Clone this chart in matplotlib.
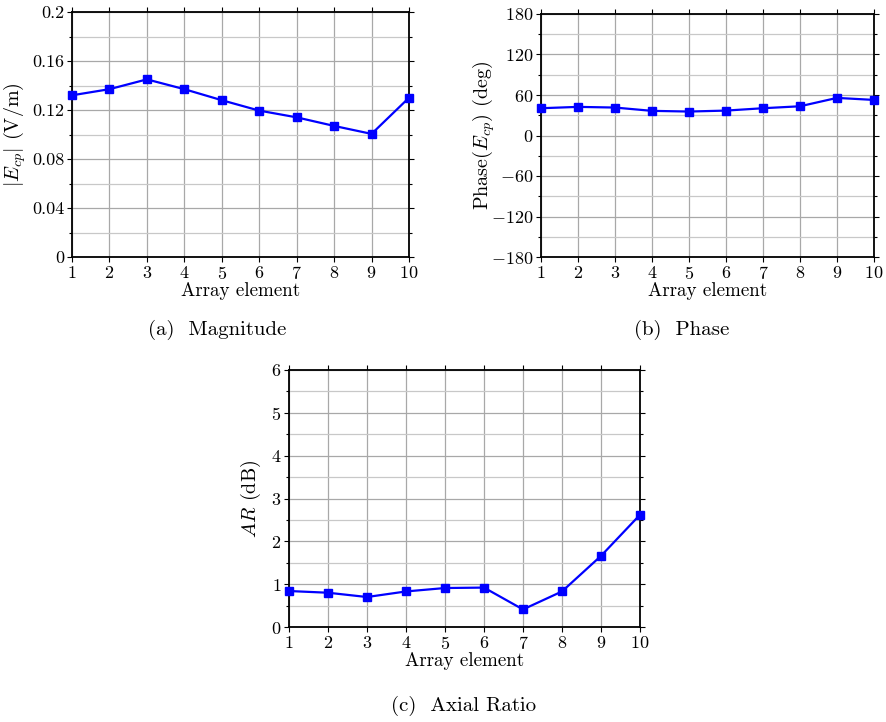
import matplotlib
matplotlib.use("Agg")
import matplotlib.pyplot as plt
import numpy as np
from matplotlib.ticker import MultipleLocator

plt.rcParams['font.family'] = 'serif'
plt.rcParams['font.serif'] = ['cmr10']
plt.rcParams['mathtext.fontset'] = 'cm'
plt.rcParams['axes.formatter.use_mathtext'] = True

elements = [1, 2, 3, 4, 5, 6, 7, 8, 9, 10]
magnitude = [0.132, 0.137, 0.145, 0.137, 0.128, 0.1195, 0.114, 0.107, 0.1005, 0.130]
phase = [40.4, 42.4, 41.4, 36.5, 35.5, 36.9, 40.4, 43.3, 55.7, 52.7]
axial_ratio = [0.84, 0.80, 0.70, 0.83, 0.91, 0.92, 0.41, 0.83, 1.66, 2.62]

fig = plt.figure(figsize=(8.86, 7.22), dpi=100)
W, H = 886, 722

def add_ax(l, r, t, b):
    return fig.add_axes([l / W, 1 - b / H, (r - l) / W, (b - t) / H])

def style(ax, data, ymin, ymax, major, minor, ylabel, labx, ticklabels=None):
    ax.plot(elements, data, color='#0000ff', lw=1.6, marker='s', ms=6, zorder=5, clip_on=False)
    ax.set_xlim(1, 10)
    ax.set_ylim(ymin, ymax)
    ax.xaxis.set_major_locator(MultipleLocator(1))
    ax.yaxis.set_major_locator(MultipleLocator(major))
    ax.yaxis.set_minor_locator(MultipleLocator(minor))
    ax.grid(which='major', color='#a8a8a8', lw=0.9)
    ax.grid(which='minor', axis='y', color='#c8c8c8', lw=0.9)
    ax.set_axisbelow(True)
    ax.tick_params(which='both', direction='out', top=True, right=True, labelsize=13, width=0.8, color='black')
    ax.tick_params(which='major', length=3.5, pad=2)
    ax.tick_params(which='minor', length=2)
    for s in ax.spines.values():
        s.set_linewidth(1.3)
    ax.set_xlabel('Array element', fontsize=13.7, labelpad=0)
    ax.set_ylabel(ylabel, fontsize=14.5)
    ax.yaxis.set_label_coords(labx, 0.5)
    if ticklabels is not None:
        ax.set_yticks(ticklabels[0])
        ax.set_yticklabels(ticklabels[1])

ax1 = add_ax(72, 409, 12, 257)
style(ax1, magnitude, 0, 0.2, 0.04, 0.02, r'$|E_{cp}|$ (V/m)', -0.131,
      ([0, 0.04, 0.08, 0.12, 0.16, 0.2], ['0', '0.04', '0.08', '0.12', '0.16', '0.2']))

ax2 = add_ax(541, 874, 14, 257)
style(ax2, phase, -180, 180, 60, 30, r'Phase$(E_{cp})$ (deg)', -0.132)

ax3 = add_ax(289, 640, 370, 627)
style(ax3, axial_ratio, 0, 6, 1, 0.5, r'$AR$ (dB)', -0.074)

fig.text(217 / W, 1 - 330 / H, '(a)  Magnitude', ha='center', va='center', fontsize=15)
fig.text(682 / W, 1 - 330 / H, '(b)  Phase', ha='center', va='center', fontsize=15)
fig.text(464 / W, 1 - 706 / H, '(c)  Axial Ratio', ha='center', va='center', fontsize=15)

fig.savefig('out.png', dpi=100)
